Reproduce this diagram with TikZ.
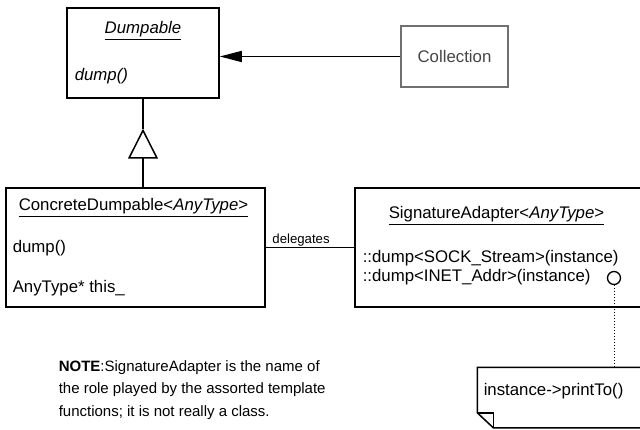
\documentclass[tikz,border=0pt]{standalone}
\usepackage{fontspec}
\setmainfont{Liberation Sans}
\usepackage{xcolor}
\usetikzlibrary{arrows.meta, positioning, calc}
\definecolor{framegray}{HTML}{707070}
\definecolor{textgray}{HTML}{444444}

\begin{document}
\begin{tikzpicture}[
    x=1pt, y=-1pt,
    font=\fontsize{16.8}{20}\selectfont,
    line width=1.5pt,
    classbox/.style={draw, rectangle, inner sep=0pt},
    member/.style={anchor=base west, inner sep=0pt},
    classname/.style={anchor=base, inner sep=0pt},
    plainbox/.style={draw=framegray, rectangle, line width=1.1pt, text=textgray, inner sep=0pt},
    smalltext/.style={font=\fontsize{13.2}{16}\selectfont},
    notetext/.style={font=\fontsize{15}{22.6}\selectfont, align=left, anchor=north west, inner sep=0pt}
  ]
  \clip (0,0) rectangle (640,430);

  \node (dumpable) [classbox, minimum width=152pt, minimum height=90pt] at (143,53) {};
  \node (dumpname) [classname] at (143,34) {\underline{\itshape Dumpable}};
  \node (dumpmeth) [member] at (74,81) {\itshape dump()};

  \node (collection) [plainbox, minimum width=107pt, minimum height=61pt] at (454.5,56.5) {Collection};

  \node (cdump) [classbox, minimum width=259pt, minimum height=119pt] at (135.5,247.5) {};
  \node (cdumpname) [member] at (18,211) {\underline{ConcreteDumpable<\textit{AnyType}>}};
  \node (cdumpmeth) [member] at (12,253) {dump()};
  \node (cdumpattr) [member] at (12,292.5) {AnyType* this\_};

  \node (sigadapter) [classbox, minimum width=300pt, minimum height=119pt] at (505,247.5) {};
  \node (signame) [member] at (388,219) {\underline{SignatureAdapter<\textit{AnyType}>}};
  \node (sigsock) [member] at (362,262.5) {::dump<SOCK\_Stream>(instance)};
  \node (siginet) [member] at (362,281.5) {::dump<INET\_Addr>(instance)};
  \node (iface) [circle, draw, line width=1.3pt, minimum size=13pt, inner sep=0pt] at (614,278) {};

  \node (printto) [minimum width=182pt, minimum height=59pt, inner sep=0pt] at (569,397.5) {};
  \draw (printto.north east) -- (printto.north west) -- ([yshift=15pt]printto.south west)
    -- ([xshift=16pt]printto.south west) -- (printto.south east);
  \draw ([yshift=15pt]printto.south west) -- ([xshift=16pt,yshift=15pt]printto.south west)
    -- ([xshift=16pt]printto.south west);
  \node (printtext) [member] at (483,395) {instance->printTo()};

  \node (note) [notetext] at (58,359.5) {\textbf{NOTE}:SignatureAdapter is the name of\\
    the role played by the assorted template\\
    functions; it is not really a class.};

  \coordinate (apex) at ($(dumpable.south)+(0,30)$);
  \draw[-{Triangle[length=22pt, width=11pt]}] (collection.west) -- (collection.west -| dumpable.east);
  \draw[-{Triangle[open, length=30pt, width=30pt]}] (dumpable.south |- cdump.north) -- (apex);
  \draw (apex) -- (dumpable.south);
  \draw (cdump.east) -- node[smalltext, pos=0.067, anchor=base west, inner sep=0pt, yshift=3.5pt] {delegates} (cdump.east -| sigadapter.west);
  \draw[dotted, line width=1pt] (iface.south) -- (iface.south |- printto.north);
\end{tikzpicture}
\end{document}
